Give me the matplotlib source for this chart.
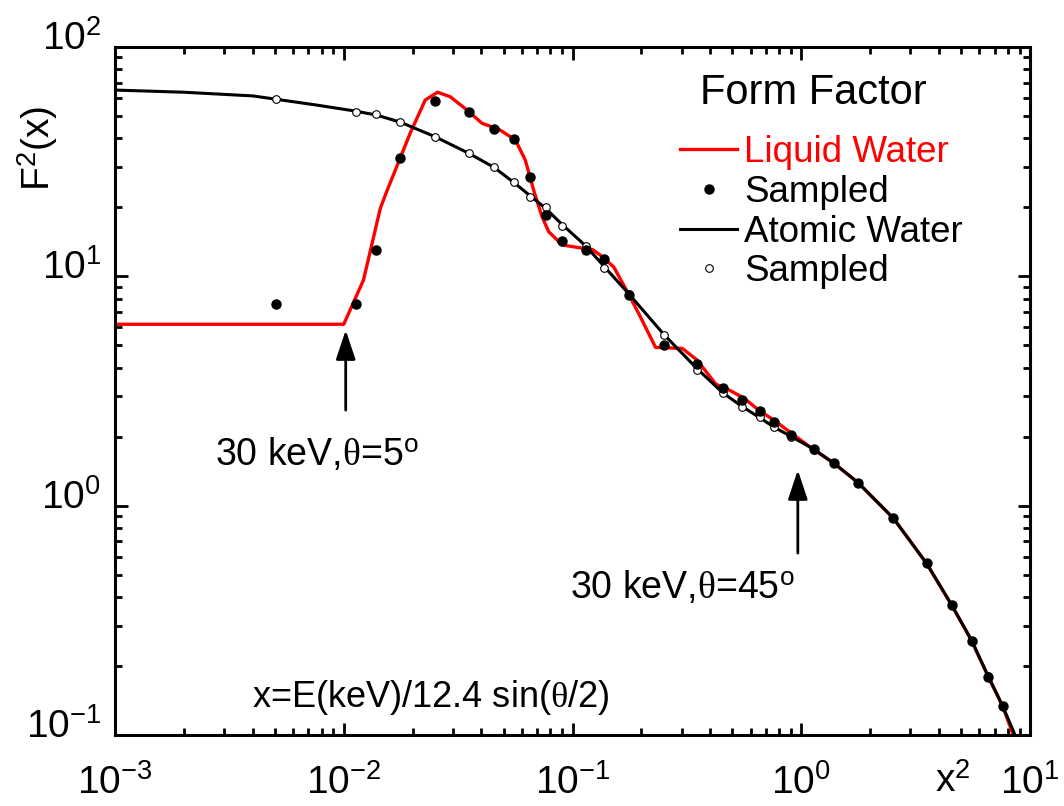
import matplotlib
matplotlib.use("Agg")
import matplotlib.pyplot as plt
from matplotlib.lines import Line2D
from matplotlib.transforms import ScaledTranslation

plt.rcParams['font.family'] = ['Liberation Sans', 'DejaVu Sans']
plt.rcParams['mathtext.fontset'] = 'custom'
plt.rcParams['mathtext.rm'] = 'Liberation Sans'
plt.rcParams['mathtext.it'] = 'Liberation Serif'
plt.rcParams['mathtext.sf'] = 'Liberation Sans'
plt.rcParams['mathtext.bf'] = 'Liberation Sans:bold'

# ---- data ----
liquid_x = [0.001, 0.0100, 0.0122, 0.01445, 0.0154, 0.0195, 0.0227, 0.0257, 0.0292,
            0.0346, 0.0402, 0.0476, 0.0563, 0.0622, 0.0676, 0.0736, 0.0787, 0.0902,
            0.114, 0.122, 0.1334, 0.1513, 0.176, 0.198, 0.2307, 0.302, 0.351, 0.4227,
            0.491, 0.5624, 0.658, 0.76, 0.905, 1.138, 1.392, 1.773, 2.533, 3.532,
            4.543, 5.559, 6.57, 7.59, 8.45]
liquid_y = [6.18, 6.18, 9.64, 19.8, 23.4, 42.0, 58.7, 63.5, 60.7,
            53.1, 46.5, 43.8, 39.3, 32.1, 23.8, 18.2, 15.65, 13.7,
            13.2, 13.1, 12.3, 11.0, 8.36, 6.66, 4.90, 4.85, 4.31, 3.39,
            3.17, 2.94, 2.59, 2.36, 2.07, 1.75, 1.53, 1.26, 0.88, 0.56,
            0.3685, 0.2575, 0.1795, 0.1337, 0.1]

atomic_x = [0.001, 0.002, 0.004, 0.00505, 0.00763, 0.0113, 0.0139, 0.0177, 0.0251,
            0.0352, 0.0453, 0.0553, 0.0655, 0.0763, 0.0902, 0.114, 0.138, 0.176,
            0.252, 0.351, 0.455, 0.553, 0.658, 0.76, 0.906, 1.138, 1.39, 1.77,
            2.53, 3.53, 4.54, 5.56, 6.57, 7.59, 8.6]
atomic_y = [64.9, 63.5, 61.2, 59.2, 55.8, 52.5, 50.5, 47.0, 40.6,
            34.4, 29.9, 25.7, 22.4, 19.8, 16.8, 13.6, 11.0, 8.4,
            5.55, 3.95, 3.10, 2.70, 2.42, 2.20, 2.00, 1.76, 1.53, 1.26,
            0.88, 0.56, 0.37, 0.258, 0.18, 0.134, 0.1]

sample_x = [0.00505, 0.0113, 0.0139, 0.0177, 0.0251, 0.0352, 0.0453, 0.0553, 0.0655,
            0.0763, 0.0902, 0.114, 0.138, 0.176, 0.252, 0.351, 0.455, 0.553, 0.658,
            0.76, 0.906, 1.138, 1.39, 1.77, 2.53, 3.53, 4.54, 5.56, 6.57, 7.59]
atomic_sample_y = [59.2, 52.2, 51.1, 47.2, 40.6, 34.4, 29.9, 25.7, 22.2,
                   20.1, 16.6, 13.6, 10.9, 8.36, 5.55, 3.90, 3.09, 2.70, 2.43,
                   2.20, 2.00, 1.75, 1.53, 1.26, 0.88, 0.56, 0.37, 0.258, 0.18, 0.134]
liquid_sample_y = [7.57, 7.57, 13.0, 32.9, 58.3, 52.2, 43.9, 39.7, 27.2,
                   18.6, 14.3, 13.0, 11.9, 8.29, 5.01, 4.14, 3.25, 2.89, 2.59,
                   2.32, 2.03, 1.76, 1.53, 1.26, 0.88, 0.56, 0.3685, 0.2575, 0.1795, 0.1337]

legend_title = "Form Factor"
legend_labels = ["Liquid Water", "Sampled", "Atomic Water", "Sampled"]

# ---- figure ----
fig = plt.figure(figsize=(10.64, 8.06), dpi=100)
ax = fig.add_axes([115/1064, 1-735/806, 915/1064, 688/806])

ax.plot(liquid_x, liquid_y, color='#ff0000', lw=2.4, zorder=2)
ax.plot(atomic_x, atomic_y, color='black', lw=2.2, zorder=3)
ax.plot(sample_x, atomic_sample_y, 'o', mfc='white', mec='black', mew=0.8, ms=5.5, zorder=4)
ax.plot(sample_x, liquid_sample_y, 'o', mfc='black', mec='black', ms=6.5, zorder=5)

ax.set_xscale('log')
ax.set_yscale('log')
ax.set_xlim(1e-3, 1e1)
ax.set_ylim(1e-1, 1e2)

for s in ax.spines.values():
    s.set_linewidth(2.2)
ax.tick_params(which='both', direction='in', top=True, right=True, width=2.0)
ax.tick_params(which='major', length=9)
ax.tick_params(which='minor', length=5)
ax.tick_params(axis='x', which='major', labelsize=28, pad=21)
ax.tick_params(axis='y', which='major', labelsize=28, pad=10)
for lab in ax.get_yticklabels():
    lab.set_transform(lab.get_transform() + ScaledTranslation(0, 12/100, fig.dpi_scale_trans))

fig.text(38/1064, 1-148/806, r"F$^{\mathrm{2}}$(x)", rotation=90, ha='center', va='center', fontsize=28)
fig.text(953/1064, 1-782/806, r"x$^{\mathrm{2}}$", ha='center', va='center', fontsize=28)

# annotations
arrow_kw = dict(arrowstyle='-|>,head_length=0.9,head_width=0.3', color='black', lw=2.0,
                mutation_scale=20, shrinkA=0, shrinkB=0)
ax.annotate('', xy=(0.0102, 5.83), xytext=(0.0102, 2.61), arrowprops=arrow_kw)
ax.annotate('', xy=(0.966, 1.43), xytext=(0.966, 0.621), arrowprops=arrow_kw)
ax.text(0.00766, 1.503, r"30 keV,$\theta$=5$^{\mathrm{o}}$", ha='center', va='baseline', fontsize=27)
ax.text(0.3013, 0.395, r"30 keV,$\theta$=45$^{\mathrm{o}}$", ha='center', va='baseline', fontsize=27)
ax.text(0.02391, 0.1324, r"x=E(keV)/12.4 sin($\theta$/2)", ha='center', va='baseline', fontsize=26)

# legend
fig.text(813/1064, 1-93/806, legend_title, ha='center', va='center', fontsize=30)
handles = [Line2D([], [], color='#ff0000', lw=2.4),
           Line2D([], [], ls='none', marker='o', mfc='black', mec='black', ms=6.5),
           Line2D([], [], color='black', lw=2.2),
           Line2D([], [], ls='none', marker='o', mfc='white', mec='black', mew=0.8, ms=5.5)]
leg = ax.legend(handles, legend_labels, frameon=False,
                loc='upper left', bbox_to_anchor=(680/1064, 1-135/806),
                bbox_transform=fig.transFigure, fontsize=26.5,
                handlelength=1.55, handletextpad=0.2, labelspacing=0.13,
                borderpad=0, borderaxespad=0)
leg.get_texts()[0].set_color('#ff0000')

fig.savefig('out.png', dpi=100)
